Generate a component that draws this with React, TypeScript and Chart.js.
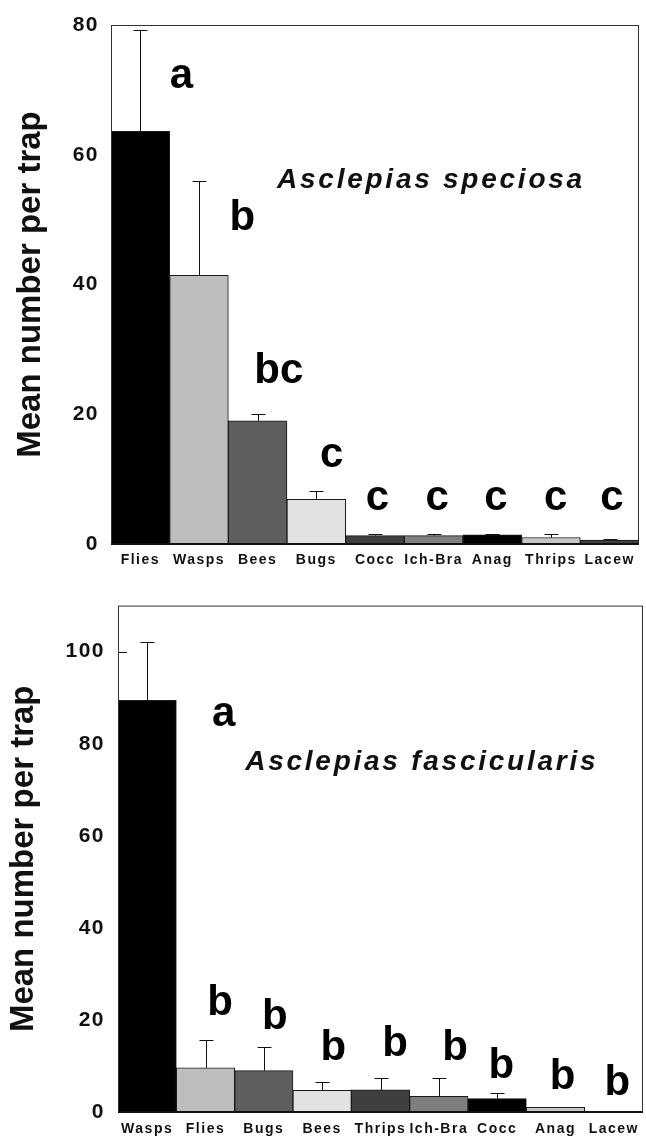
import React, { useEffect, useRef } from 'react';
import { Chart, registerables } from 'chart.js';

Chart.register(...registerables);

// ---------- data: top panel (Asclepias speciosa) ----------
const topCategories = ['Flies', 'Wasps', 'Bees', 'Bugs', 'Cocc', 'Ich-Bra', 'Anag', 'Thrips', 'Lacew'];
const topMeans = [63.6, 41.4, 19.0, 6.9, 1.3, 1.3, 1.4, 1.0, 0.6];
const topErrors = [15.7, 14.5, 1.0, 1.2, 0.2, 0.2, 0.2, 0.6, 0.2];
const topLetters = ['a', 'b', 'bc', 'c', 'c', 'c', 'c', 'c', 'c'];
const topTicks = [0, 20, 40, 60, 80];
const topSpecies = 'Asclepias speciosa';

// ---------- data: bottom panel (Asclepias fascicularis) ----------
const bottomCategories = ['Wasps', 'Flies', 'Bugs', 'Bees', 'Thrips', 'Ich-Bra', 'Cocc', 'Anag', 'Lacew'];
const bottomMeans = [89.4, 9.6, 9.0, 4.7, 4.8, 3.4, 2.9, 1.0, 0];
const bottomErrors = [12.7, 6.1, 5.2, 1.9, 2.5, 3.9, 1.2, 0, 0];
const bottomLetters = ['a', 'b', 'b', 'b', 'b', 'b', 'b', 'b', 'b'];
const bottomTicks = [0, 20, 40, 60, 80, 100];
const bottomSpecies = 'Asclepias fascicularis';

const yAxisTitle = 'Mean number per trap';

// ---------- layout / style (not data) ----------
const FONT = "'Liberation Sans', Arial, Helvetica, sans-serif";
const palette = ['#000000', '#bdbdbd', '#5e5e5e', '#e2e2e2', '#3f3f3f', '#7f7f7f', '#000000', '#c6c6c6', '#3f3f3f'];

// letter annotation placement: offset in category units, height in data units
const topLetterDx = [0.7, 0.74, 0.36, 0.26, 0.04, 0.06, 0.06, 0.08, 0.04];
const topLetterY = [70.3, 48.4, 24.8, 11.9, 5.2, 5.2, 5.2, 5.2, 5.2];
const bottomLetterDx = [1.31, 0.25, 0.19, 0.19, 0.25, 0.28, 0.07, 0.12, 0.06];
const bottomLetterY = [83.9, 21.0, 18.0, 11.4, 12.1, 11.2, 7.4, 4.9, 3.6];

type Panel = {
  categories: string[];
  means: number[];
  errors: number[];
  letters: string[];
  letterDx: number[];
  letterY: number[];
  ticks: number[];
  yMax: number;
  species: string;
  speciesX: number; // category-index units
  speciesY: number; // data units
  width: number;
  height: number;
  left: number;
  top: number;
  rightPad: number;
  xAxisH: number;
  yTickPad: number;
  xTickPad: number;
  yTitleX: number;
};

const topPanel: Panel = {
  categories: topCategories,
  means: topMeans,
  errors: topErrors,
  letters: topLetters,
  letterDx: topLetterDx,
  letterY: topLetterY,
  ticks: topTicks,
  yMax: 80,
  species: topSpecies,
  speciesX: 2.33,
  speciesY: 54.9,
  width: 646,
  height: 580,
  left: 111,
  top: 25,
  rightPad: 7,
  xAxisH: 36,
  yTickPad: 12,
  xTickPad: 8,
  yTitleX: 31,
};

const bottomPanel: Panel = {
  categories: bottomCategories,
  means: bottomMeans,
  errors: bottomErrors,
  letters: bottomLetters,
  letterDx: bottomLetterDx,
  letterY: bottomLetterY,
  ticks: bottomTicks,
  yMax: 110,
  species: bottomSpecies,
  speciesX: 1.68,
  speciesY: 74.2,
  width: 646,
  height: 560,
  left: 118,
  top: 13,
  rightPad: 3,
  xAxisH: 28,
  yTickPad: 13,
  xTickPad: 9,
  yTitleX: 24,
};

function buildChart(canvas: HTMLCanvasElement, p: Panel) {
  const decor = {
    id: 'decor',
    beforeDraw(chart: any) {
      chart.ctx.letterSpacing = '1.5px';
    },
    beforeDatasetsDraw(chart: any) {
      const { ctx, chartArea } = chart;
      const ys = chart.scales.y;
      ctx.save();
      ctx.strokeStyle = '#111';
      ctx.lineWidth = 1;
      p.ticks.forEach((t) => {
        const py = Math.round(ys.getPixelForValue(t)) + 0.5;
        ctx.beginPath();
        ctx.moveTo(chartArea.left, py);
        ctx.lineTo(chartArea.left + 9, py);
        ctx.stroke();
      });
      ctx.restore();
    },
    afterDatasetsDraw(chart: any) {
      const { ctx, chartArea } = chart;
      const xs = chart.scales.x;
      const ys = chart.scales.y;
      const meta = chart.getDatasetMeta(0);
      ctx.save();
      ctx.letterSpacing = '0px';
      // error bars (upper only)
      ctx.strokeStyle = '#111';
      ctx.lineWidth = 1;
      meta.data.forEach((bar: any, i: number) => {
        const err = p.errors[i];
        if (!err) return;
        const x = Math.round(bar.x) + 0.5;
        const y0 = ys.getPixelForValue(p.means[i]);
        const y1 = Math.round(ys.getPixelForValue(p.means[i] + err)) + 0.5;
        ctx.beginPath();
        ctx.moveTo(x, y0);
        ctx.lineTo(x, y1);
        ctx.moveTo(x - 7, y1);
        ctx.lineTo(x + 7, y1);
        ctx.stroke();
      });
      // frame
      ctx.strokeStyle = '#333';
      ctx.lineWidth = 1;
      ctx.strokeRect(chartArea.left + 0.5, chartArea.top + 0.5, chartArea.right - chartArea.left - 1, chartArea.bottom - chartArea.top);
      ctx.strokeStyle = '#111';
      ctx.lineWidth = 2;
      ctx.beginPath();
      ctx.moveTo(chartArea.left, chartArea.bottom);
      ctx.lineTo(chartArea.right, chartArea.bottom);
      ctx.stroke();
      // significance letters
      ctx.fillStyle = '#000';
      ctx.font = `bold 42px ${FONT}`;
      ctx.textAlign = 'center';
      ctx.textBaseline = 'alphabetic';
      p.letters.forEach((l, i) => {
        const x = xs.getPixelForValue(i + p.letterDx[i]);
        const y = ys.getPixelForValue(p.letterY[i]);
        ctx.fillText(l, x, y);
      });
      // species name
      ctx.font = `italic bold 28px ${FONT}`;
      ctx.letterSpacing = '2.75px';
      ctx.textAlign = 'left';
      ctx.fillStyle = '#111';
      ctx.fillText(p.species, xs.getPixelForValue(p.speciesX), ys.getPixelForValue(p.speciesY));
      // y axis title
      ctx.letterSpacing = '0px';
      ctx.font = `bold 33px ${FONT}`;
      ctx.textAlign = 'center';
      ctx.textBaseline = 'middle';
      ctx.translate(p.yTitleX, (chartArea.top + chartArea.bottom) / 2);
      ctx.rotate(-Math.PI / 2);
      ctx.fillText(yAxisTitle, 0, 0);
      ctx.restore();
      chart.ctx.letterSpacing = '1.5px';
    },
  };

  return new Chart(canvas, {
    type: 'bar',
    data: {
      labels: p.categories,
      datasets: [
        {
          data: p.means,
          backgroundColor: palette,
          borderColor: '#1a1a1a',
          borderWidth: 1,
          categoryPercentage: 1,
          barPercentage: 1,
        },
      ],
    },
    options: {
      responsive: false,
      animation: false,
      events: [],
      devicePixelRatio: 1,
      layout: { padding: { left: 0, top: p.top, right: p.rightPad, bottom: 0 } },
      plugins: { legend: { display: false }, tooltip: { enabled: false }, title: { display: false } },
      scales: {
        x: {
          grid: { display: false, drawTicks: false },
          border: { display: false },
          ticks: {
            autoSkip: false,
            maxRotation: 0,
            minRotation: 0,
            padding: p.xTickPad,
            color: '#111',
            font: { family: FONT, size: 14, weight: 'bold' },
          },
          afterFit: (s: any) => {
            s.height = p.xAxisH;
          },
        },
        y: {
          min: 0,
          max: p.yMax,
          grid: { display: false, drawTicks: false },
          border: { display: false },
          ticks: {
            stepSize: 20,
            includeBounds: false,
            padding: p.yTickPad,
            color: '#111',
            font: { family: FONT, size: 21, weight: 'bold' },
          },
          afterFit: (s: any) => {
            s.width = p.left;
          },
        },
      },
    },
    plugins: [decor],
  } as any);
}

function Panel({ cfg }: { cfg: Panel }) {
  const ref = useRef<HTMLCanvasElement | null>(null);
  useEffect(() => {
    if (!ref.current) return;
    const chart = buildChart(ref.current, cfg);
    return () => chart.destroy();
  }, [cfg]);
  return <canvas ref={ref} width={cfg.width} height={cfg.height} style={{ display: 'block', width: cfg.width, height: cfg.height }} />;
}

export default function App() {
  return (
    <div style={{ position: 'absolute', left: 0, top: 0, width: 646, height: 1140, background: '#fff' }}>
      <Panel cfg={topPanel} />
      <Panel cfg={bottomPanel} />
    </div>
  );
}
